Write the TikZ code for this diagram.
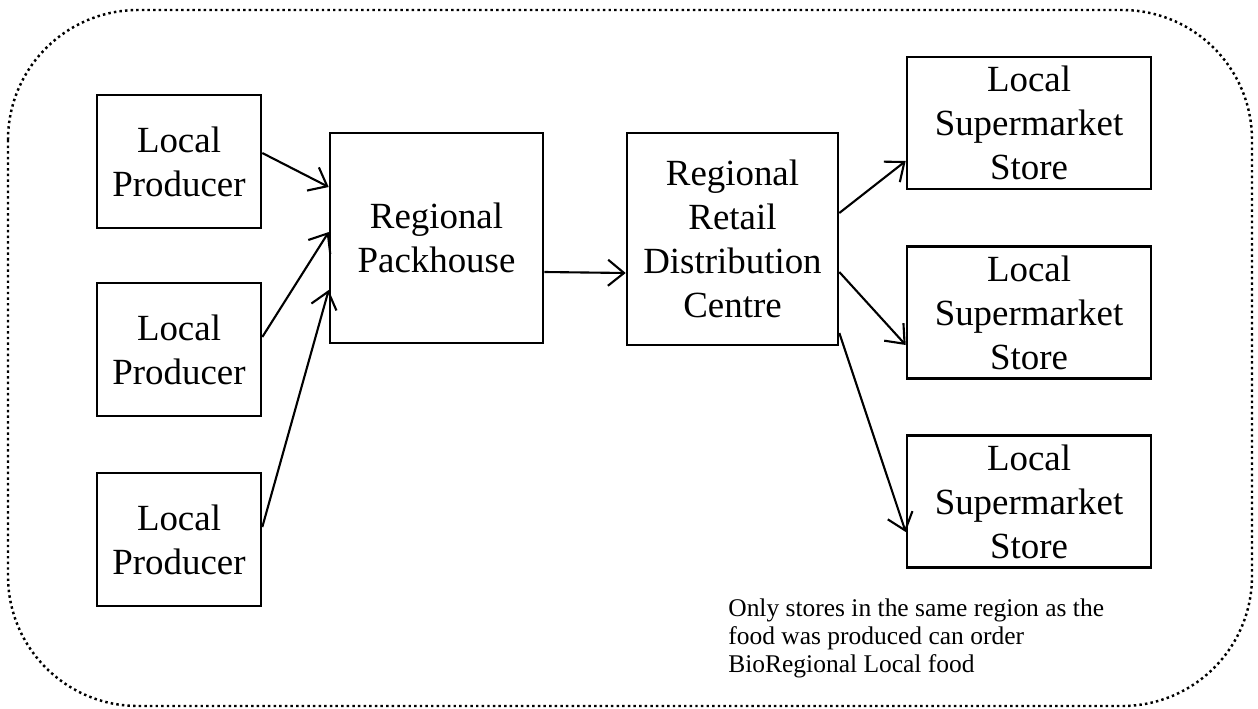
\documentclass[tikz,border=0pt]{standalone}
\usepackage{fontspec}
\setmainfont{Liberation Serif}
\usetikzlibrary{arrows.meta}

\begin{document}
\begin{tikzpicture}[x=0.02cm,y=-0.02cm,
  stage/.style={draw,line width=1.5pt,align=center,inner sep=0pt,font=\fontsize{21}{25}\selectfont},
  flow/.style={-{Straight Barb[length=0.32cm,width=0.52cm]},line width=1.2pt}]
\useasboundingbox (0,0) rectangle (1258,708);
% dotted frame
\draw[line width=1.4pt,dash pattern=on 1.4pt off 1.8pt,rounded corners=2.6cm] (8,10) rectangle (1252,706);
% producers and stores
\foreach \i/\y in {1/161.5,2/349.5,3/539.5}
   \node[stage,minimum width=3.28cm,minimum height=2.66cm] (prod\i) at (179,\y) {Local\\Producer};
\foreach \i/\y in {1/123,2/312.5,3/501.5}
   \node[stage,minimum width=4.88cm,minimum height=2.64cm] (store\i) at (1029,\y) {Local\\Supermarket\\Store};
\node[stage,minimum width=4.26cm,minimum height=4.2cm] (pack) at (436.5,238) {Regional\\Packhouse};
\node[stage,minimum width=4.22cm,minimum height=4.24cm] (rdc) at (732.5,239) {Regional\\Retail\\Distribution\\Centre};
% arrows
\draw[flow] ([yshift=0.17cm]prod1.east) -- ([yshift=1.02cm]pack.west);
\draw[flow] ([yshift=0.25cm]prod2.east) -- ([yshift=0.12cm]pack.west);
\draw[flow] ([yshift=0.25cm]prod3.east) -- ([yshift=-1.04cm]pack.west);
\draw[flow] ([yshift=-0.68cm]pack.east) -- ([yshift=-0.68cm]rdc.west);
\draw[flow] ([yshift=0.52cm]rdc.east) -- ([yshift=-0.76cm]store1.west);
\draw[flow] ([yshift=-0.66cm]rdc.east) -- ([yshift=-0.65cm]store2.west);
\draw[flow] ([yshift=-1.88cm]rdc.east) -- ([yshift=-0.61cm]store3.west);
\node[anchor=north west,inner sep=0pt,align=left,font=\fontsize{14.5}{16}\selectfont] (note) at (728,598)
   {Only stores in the same region as the\\food was produced can order\\BioRegional Local food};
\end{tikzpicture}
\end{document}
